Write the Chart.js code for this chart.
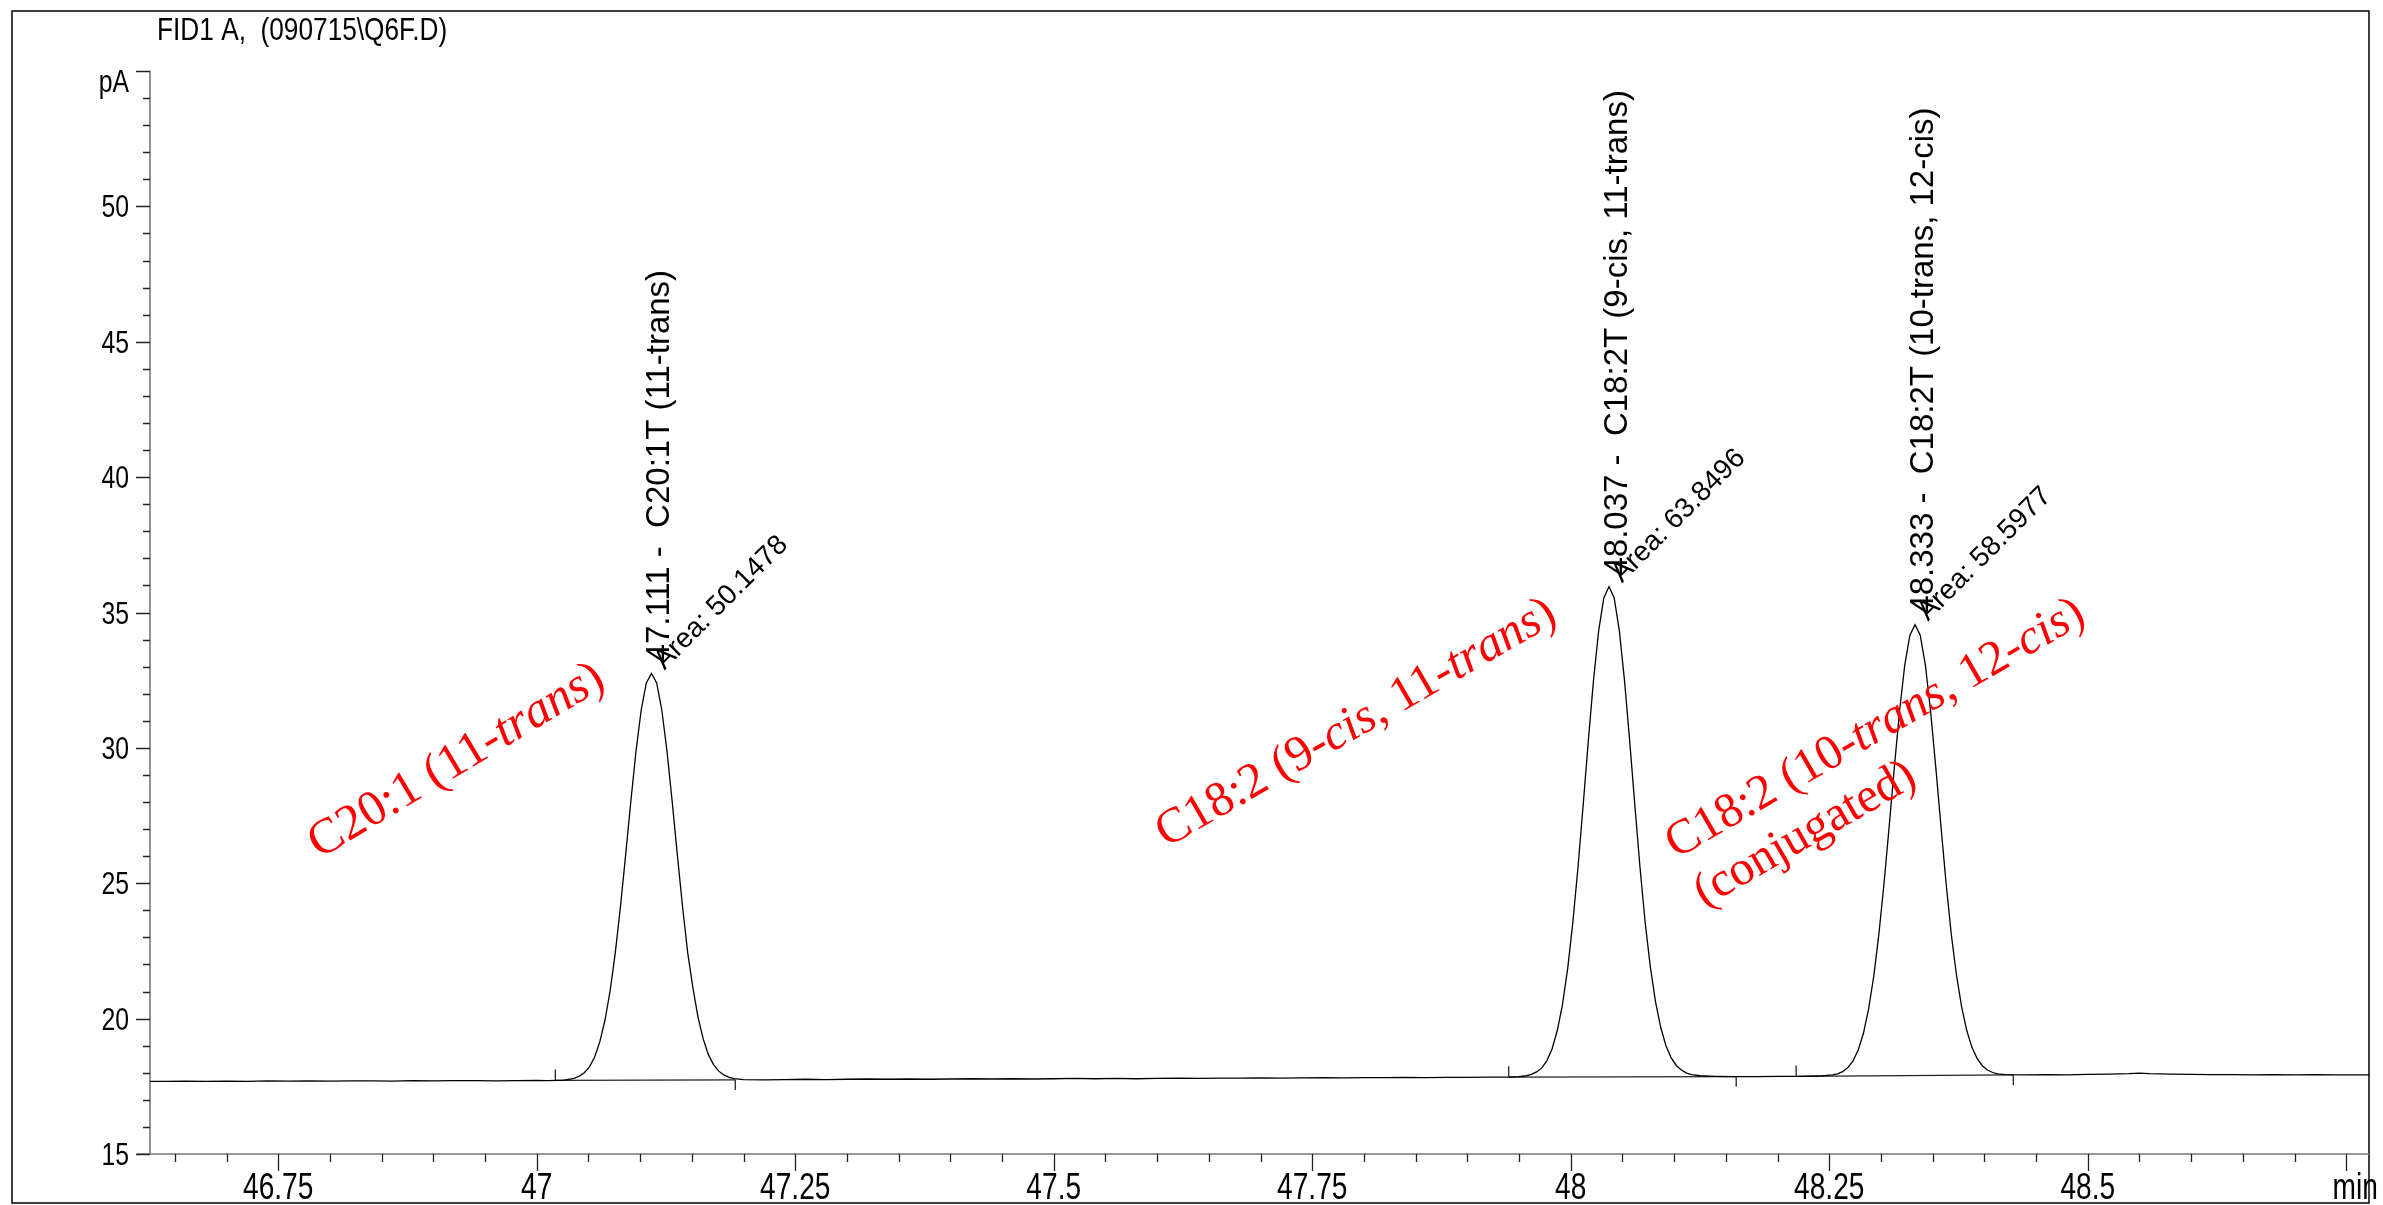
<!DOCTYPE html>
<html>
<head>
<meta charset="utf-8">
<script src="https://cdn.jsdelivr.net/npm/chart.js@4.4.0/dist/chart.umd.min.js"></script>
<style>
  html, body { margin: 0; padding: 0; background: #fff; }
  canvas { display: block; }
</style>
</head>
<body>
<canvas id="crom" width="2383" height="1205" style="width:2383px;height:1205px"></canvas>
<script>
var tempo = [
  46.626, 46.64, 46.66, 46.68, 46.70, 46.72, 46.74, 46.76, 46.78, 46.80, 46.82, 46.84, 46.86, 46.88, 46.90,
  46.92, 46.94, 46.96, 46.98, 47.00, 47.01, 47.02, 47.026,
  47.031, 47.036, 47.041, 47.046, 47.051, 47.056, 47.061, 47.066, 47.071, 47.076, 47.081, 47.086, 47.091,
  47.096, 47.101, 47.106, 47.111, 47.116, 47.121, 47.126, 47.131, 47.136, 47.141, 47.146, 47.151, 47.156,
  47.161, 47.166, 47.171, 47.176, 47.181, 47.186, 47.191,
  47.20, 47.22, 47.24, 47.26, 47.28, 47.30, 47.32, 47.34, 47.36, 47.38, 47.40, 47.42, 47.44, 47.46, 47.48,
  47.50, 47.52, 47.54, 47.56, 47.58, 47.60, 47.62, 47.64, 47.66, 47.68, 47.70, 47.72, 47.74, 47.76, 47.78,
  47.80, 47.82, 47.84, 47.86, 47.88, 47.90, 47.92, 47.94, 47.95,
  47.957, 47.962, 47.967, 47.972, 47.977, 47.982, 47.987, 47.992, 47.997, 48.002, 48.007, 48.012, 48.017,
  48.022, 48.027, 48.032, 48.037, 48.042, 48.047, 48.052, 48.057, 48.062, 48.067, 48.072, 48.077, 48.082,
  48.087, 48.092, 48.097, 48.102, 48.107, 48.112, 48.117, 48.125, 48.14, 48.16, 48.18, 48.20, 48.22, 48.24,
  48.253, 48.258, 48.263, 48.268, 48.273, 48.278, 48.283, 48.288, 48.293, 48.298, 48.303, 48.308, 48.313,
  48.318, 48.323, 48.328, 48.333, 48.338, 48.343, 48.348, 48.353, 48.358, 48.363, 48.368, 48.373, 48.378,
  48.383, 48.388, 48.393, 48.398, 48.403, 48.408, 48.413, 48.42, 48.44, 48.46, 48.48, 48.50, 48.52, 48.54,
  48.55, 48.56, 48.58, 48.60, 48.62, 48.64, 48.66, 48.68, 48.70, 48.72, 48.74, 48.772
];
var sinal = [
  17.68, 17.68, 17.69, 17.68, 17.69, 17.68, 17.70, 17.69, 17.70, 17.69, 17.70, 17.70, 17.69, 17.71, 17.70,
  17.71, 17.71, 17.70, 17.71, 17.72, 17.71, 17.72, 17.73,
  17.76, 17.79, 17.87, 18.00, 18.22, 18.58, 19.14, 19.94, 21.03, 22.44, 24.14, 26.05, 28.02,
  29.87, 31.39, 32.40, 32.75, 32.40, 31.39, 29.87, 28.02, 26.05, 24.14, 22.44, 21.15, 20.05,
  19.25, 18.67, 18.30, 18.06, 17.92, 17.83, 17.78,
  17.75, 17.74, 17.75, 17.76, 17.75, 17.76, 17.77, 17.76, 17.77, 17.76, 17.77, 17.78, 17.77, 17.78, 17.77,
  17.78, 17.79, 17.78, 17.79, 17.78, 17.79, 17.80, 17.79, 17.80, 17.80, 17.81, 17.80, 17.81, 17.82, 17.81,
  17.82, 17.82, 17.83, 17.82, 17.83, 17.83, 17.84, 17.84, 17.86,
  17.89, 17.94, 18.03, 18.18, 18.45, 18.89, 19.56, 20.52, 21.84, 23.54, 25.58, 27.88, 30.26,
  32.49, 34.33, 35.54, 35.96, 35.54, 34.33, 32.49, 30.26, 27.88, 25.58, 23.54, 21.90, 20.62,
  19.68, 19.01, 18.56, 18.27, 18.10, 17.99, 17.93, 17.89, 17.87, 17.86, 17.86, 17.87, 17.87, 17.88,
  17.92, 17.96, 18.04, 18.19, 18.44, 18.84, 19.45, 20.34, 21.55, 23.12, 25.00, 27.12, 29.30,
  31.36, 33.05, 34.16, 34.55, 34.16, 33.05, 31.36, 29.30, 27.12, 25.00, 23.12, 21.62, 20.44,
  19.56, 18.94, 18.53, 18.26, 18.10, 18.01, 17.96, 17.93, 17.92, 17.93, 17.92, 17.94, 17.95, 17.97,
  17.99, 17.97, 17.95, 17.94, 17.93, 17.93, 17.92, 17.93, 17.92, 17.93, 17.92, 17.92
];

// picos integrados
var picoTR = [47.111, 48.037, 48.333];
var picoNome = ['C20:1T (11-trans)', 'C18:2T (9-cis, 11-trans)', 'C18:2T (10-trans, 12-cis)'];
var picoArea = ['50.1478', '63.8496', '58.5977'];
var picoInicio = [47.018, 47.940, 48.218];
var picoFim = [47.192, 48.160, 48.428];
var linhaBaseInicio = [17.72, 17.84, 17.87];
var linhaBaseFim = [17.74, 17.86, 17.92];

// eixos
var yTicks = [15, 20, 25, 30, 35, 40, 45, 50];
var yTickLabels = ['15', '20', '25', '30', '35', '40', '45', '50'];
var yUnidade = 'pA';
var xTicks = [46.75, 47, 47.25, 47.5, 47.75, 48, 48.25, 48.5, 48.75];
var xTickLabels = ['46.75', '47', '47.25', '47.5', '47.75', '48', '48.25', '48.5', 'min'];
var titulo = 'FID1 A,  (090715\\Q6F.D)';

// anotacoes em vermelho (trechos: texto, italico)
var notasVermelhas = [
  [[['C20:1 (11-', 0], ['trans', 1], [')', 0]]],
  [[['C18:2 (9-', 0], ['cis', 1], [', 11-', 0], ['trans', 1], [')', 0]]],
  [[['C18:2 (10-', 0], ['trans', 1], [', 12-', 0], ['cis', 1], [')', 0]], [['(conjugated)', 0]]]
];
// inicio da linha de base de cada anotacao (min, pA), tamanho e angulo
var notasPos = [[46.790, 25.9], [47.609, 26.3], [48.102, 25.9]];
var notasTam = [50, 49.5, 49];
var notasAng = [31, 30, 30];


var pontos = tempo.map(function (t, i) { return { x: t, y: sinal[i] }; });

var integracao = [];
var marcas = [];
for (var i = 0; i < picoTR.length; i++) {
  integracao.push({ x: picoInicio[i], y: linhaBaseInicio[i] }, { x: picoFim[i], y: linhaBaseFim[i] }, { x: picoFim[i], y: null });
  marcas.push({ x: picoInicio[i], y: linhaBaseInicio[i] }, { x: picoInicio[i], y: linhaBaseInicio[i] + 0.4 }, { x: picoInicio[i], y: null });
  marcas.push({ x: picoFim[i], y: linhaBaseFim[i] }, { x: picoFim[i], y: linhaBaseFim[i] - 0.38 }, { x: picoFim[i], y: null });
}

function apice(tr) {
  var best = null;
  for (var i = 0; i < tempo.length; i++) {
    if (Math.abs(tempo[i] - tr) < 0.01 && (best === null || sinal[i] > sinal[best])) best = i;
  }
  return best;
}

function texto(ctx, s, x, y, font, align, sx) {
  ctx.save();
  ctx.translate(x, y);
  ctx.scale(sx, 1);
  ctx.font = font;
  ctx.textAlign = align;
  ctx.textBaseline = 'alphabetic';
  ctx.fillText(s, 0, 0);
  ctx.restore();
}

var estreita = 0.8;

var cromPlugin = {
  id: 'crom',
  beforeDraw: function (chart) {
    var ctx = chart.ctx;
    ctx.save();
    ctx.fillStyle = '#fff';
    ctx.fillRect(0, 0, chart.width, chart.height);
    ctx.restore();
  },
  beforeDatasetsDraw: function (chart) {
    var ctx = chart.ctx, xs = chart.scales.x, ys = chart.scales.y, a = chart.chartArea;
    ctx.save();
    // moldura
    ctx.strokeStyle = '#000';
    ctx.lineWidth = 1.5;
    ctx.strokeRect(12, 11, 2357, 1192);

    // eixos
    ctx.strokeStyle = '#777';
    ctx.lineWidth = 1.6;
    ctx.beginPath();
    ctx.moveTo(a.left, a.top);
    ctx.lineTo(a.left, a.bottom);
    ctx.moveTo(a.left - 13, a.bottom);
    ctx.lineTo(a.right, a.bottom);
    ctx.stroke();

    // ticks y
    ctx.strokeStyle = '#222';
    ctx.lineWidth = 1.3;
    ctx.beginPath();
    for (var v = ys.min; v <= ys.max + 0.001; v += 1) {
      var py = Math.round(ys.getPixelForValue(v)) + 0.5;
      var len = (Math.round(v) % 5 === 0) ? 14 : 7;
      ctx.moveTo(a.left - len, py);
      ctx.lineTo(a.left, py);
    }
    // ticks x
    for (var k = 0; ; k++) {
      var t = 46.65 + k * 0.05;
      if (t > xs.max) break;
      var px = Math.round(xs.getPixelForValue(t)) + 0.5;
      var maior = Math.abs(t * 4 - Math.round(t * 4)) < 0.001;
      ctx.moveTo(px, a.bottom);
      ctx.lineTo(px, a.bottom + (maior ? 17 : 8));
    }
    ctx.stroke();

    // rotulos
    ctx.fillStyle = '#000';
    for (var j = 0; j < yTicks.length; j++) {
      var yy = ys.getPixelForValue(yTicks[j]);
      texto(ctx, yTickLabels[j], a.left - 21, yy + 11, '31px "Liberation Sans", Arial, sans-serif', 'right', estreita);
    }
    texto(ctx, yUnidade, a.left - 21, ys.getPixelForValue(ys.max) + 21, '31px "Liberation Sans", Arial, sans-serif', 'right', estreita);
    for (var m = 0; m < xTicks.length; m++) {
      var xx = xs.getPixelForValue(xTicks[m]);
      if (xTickLabels[m] === 'min') xx += 9;
      texto(ctx, xTickLabels[m], xx, 1199, '37px "Liberation Sans", Arial, sans-serif', 'center', 0.76);
    }
    texto(ctx, titulo, 157, 40, '32px "Liberation Sans", Arial, sans-serif', 'left', 0.82);
    ctx.restore();
  },
  afterDatasetsDraw: function (chart) {
    var ctx = chart.ctx, xs = chart.scales.x, ys = chart.scales.y;
    ctx.save();
    ctx.fillStyle = '#000';
    ctx.textBaseline = 'alphabetic';
    ctx.textAlign = 'left';
    for (var i = 0; i < picoTR.length; i++) {
      var idx = apice(picoTR[i]);
      var ax = xs.getPixelForValue(tempo[idx]);
      var ay = ys.getPixelForValue(sinal[idx]);
      ctx.save();
      ctx.translate(ax + 18, ay - 11);
      ctx.rotate(-Math.PI / 2);
      ctx.font = '33px "Liberation Sans", Arial, sans-serif';
      ctx.fillText(picoTR[i].toFixed(3) + ' -  ' + picoNome[i], 0, 0);
      ctx.restore();
      ctx.save();
      ctx.translate(ax + 13, ay - 3);
      ctx.rotate(-Math.PI / 4);
      ctx.font = '28px "Liberation Sans", Arial, sans-serif';
      ctx.fillText('Area: ' + picoArea[i], 0, 0);
      ctx.restore();
    }

    // anotacoes vermelhas
    ctx.fillStyle = '#ff0000';
    for (var n = 0; n < notasVermelhas.length; n++) {
      var x0 = xs.getPixelForValue(notasPos[n][0]);
      var y0 = ys.getPixelForValue(notasPos[n][1]);
      var tam = notasTam[n];
      ctx.save();
      ctx.translate(x0, y0);
      ctx.rotate(-notasAng[n] * Math.PI / 180);
      var linhas = notasVermelhas[n];
      for (var l = 0; l < linhas.length; l++) {
        var cx = 0;
        for (var s = 0; s < linhas[l].length; s++) {
          var seg = linhas[l][s];
          ctx.font = (seg[1] ? 'italic ' : '') + tam + 'px "Liberation Serif", "Times New Roman", serif';
          ctx.fillText(seg[0], cx, l * tam * 1.15);
          cx += ctx.measureText(seg[0]).width;
        }
      }
      ctx.restore();
    }
    ctx.restore();
  }
};

var grafico = new Chart(document.getElementById('crom'), {
  type: 'line',
  data: {
    datasets: [
      { data: pontos, borderColor: '#000', borderWidth: 1.3, pointRadius: 0, tension: 0, fill: false },
      { data: integracao, borderColor: '#222', borderWidth: 1.2, pointRadius: 0, tension: 0, fill: false, spanGaps: false },
      { data: marcas, borderColor: '#111', borderWidth: 1.2, pointRadius: 0, tension: 0, fill: false, spanGaps: false }
    ]
  },
  options: {
    responsive: false,
    animation: false,
    devicePixelRatio: 1,
    layout: { padding: { left: 150, top: 71, right: 14, bottom: 51 } },
    plugins: { legend: { display: false }, tooltip: { enabled: false }, title: { display: false } },
    scales: {
      x: { type: 'linear', min: 46.626, max: 48.772, display: false },
      y: { type: 'linear', min: 15, max: 55, display: false }
    }
  },
  plugins: [cromPlugin]
});
</script>
</body>
</html>
